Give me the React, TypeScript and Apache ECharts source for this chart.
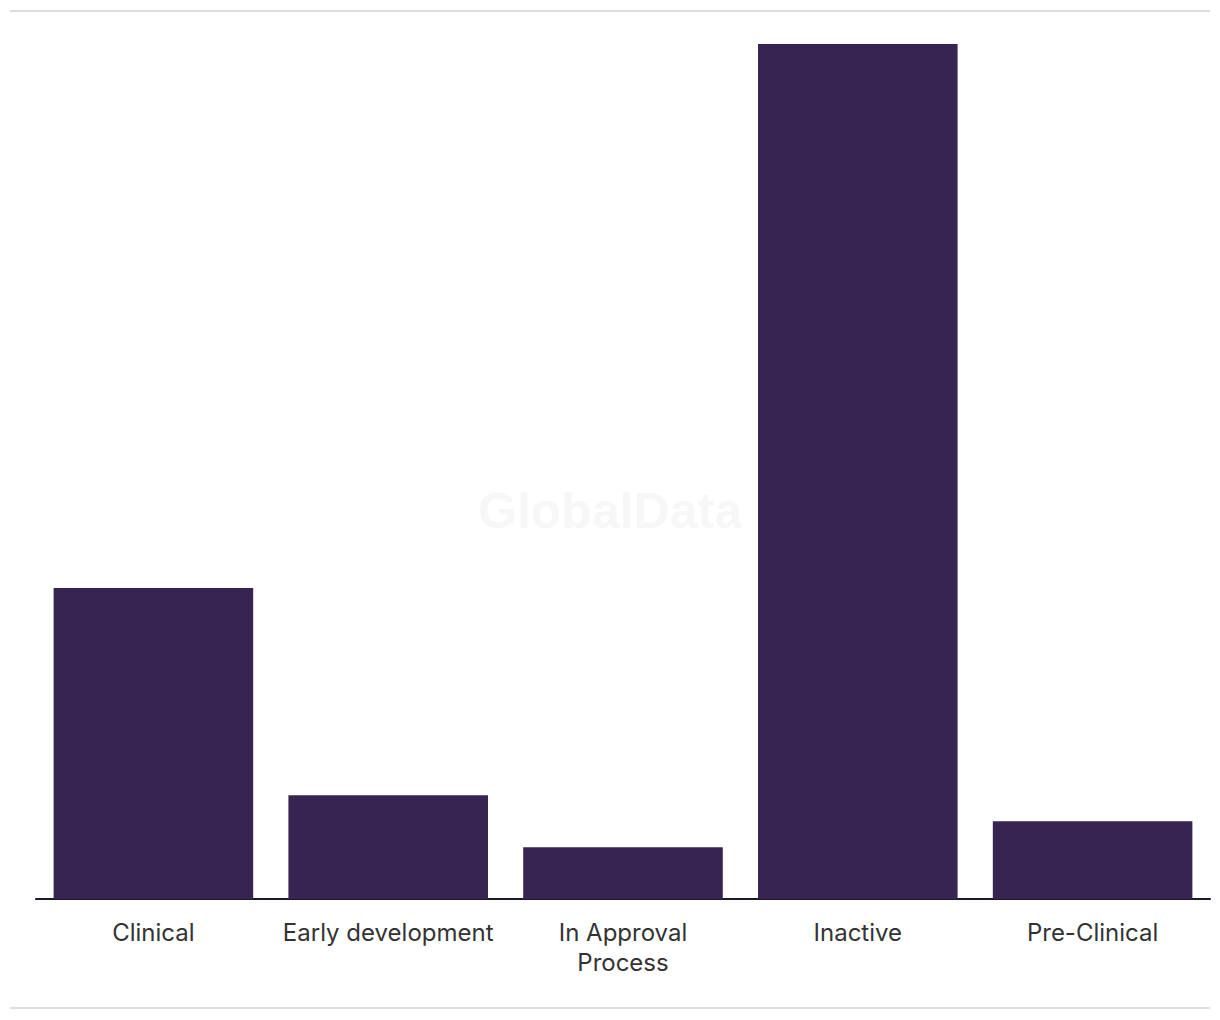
import React, { useEffect, useRef } from "react";
import * as echarts from "echarts";

const categories = ["Clinical", "Early development", "In Approval\nProcess", "Inactive", "Pre-Clinical"];
const values = [12, 4, 2, 33, 3];
const yMax = 33;

export default function App() {
  const ref = useRef<HTMLDivElement>(null);
  useEffect(() => {
    const chart = echarts.init(ref.current!, null, { renderer: "svg" });
    chart.setOption({
      animation: false,
      backgroundColor: "#ffffff",
      grid: { left: 36, right: 10, top: 44, bottom: 121, containLabel: false },
      xAxis: {
        type: "category",
        data: categories,
        axisLine: { show: true, lineStyle: { color: "#1b1a2b", width: 2 } },
        axisTick: { show: false },
        axisLabel: {
          color: "#333333",
          fontFamily: "Inter, 'Noto Sans', sans-serif",
          fontSize: 24,
          lineHeight: 30,
          margin: 18,
          interval: 0,
        },
      },
      yAxis: {
        type: "value",
        min: 0,
        max: yMax,
        show: false,
        splitLine: { show: false },
      },
      graphic: [
        { type: "line", shape: { x1: 10, y1: 11, x2: 1210, y2: 11 }, style: { stroke: "#dddddd", lineWidth: 2 }, z: 0 },
        { type: "line", shape: { x1: 10, y1: 1008, x2: 1210, y2: 1008 }, style: { stroke: "#dddddd", lineWidth: 2 }, z: 0 },
        {
          type: "text",
          x: 610,
          y: 511,
          z: -1,
          style: {
            text: "GlobalData",
            fill: "#f7f7f7",
            font: "bold 50px 'Liberation Sans', Arial, sans-serif",
            textAlign: "center",
            textVerticalAlign: "middle",
          },
        },
      ],
      series: [
        {
          type: "bar",
          data: values,
          barWidth: "85%",
          itemStyle: { color: "#372452" },
          z: 2,
        },
      ],
    });
    return () => chart.dispose();
  }, []);
  return <div ref={ref} style={{ position: "absolute", left: 0, top: 0, width: 1220, height: 1020 }} />;
}
